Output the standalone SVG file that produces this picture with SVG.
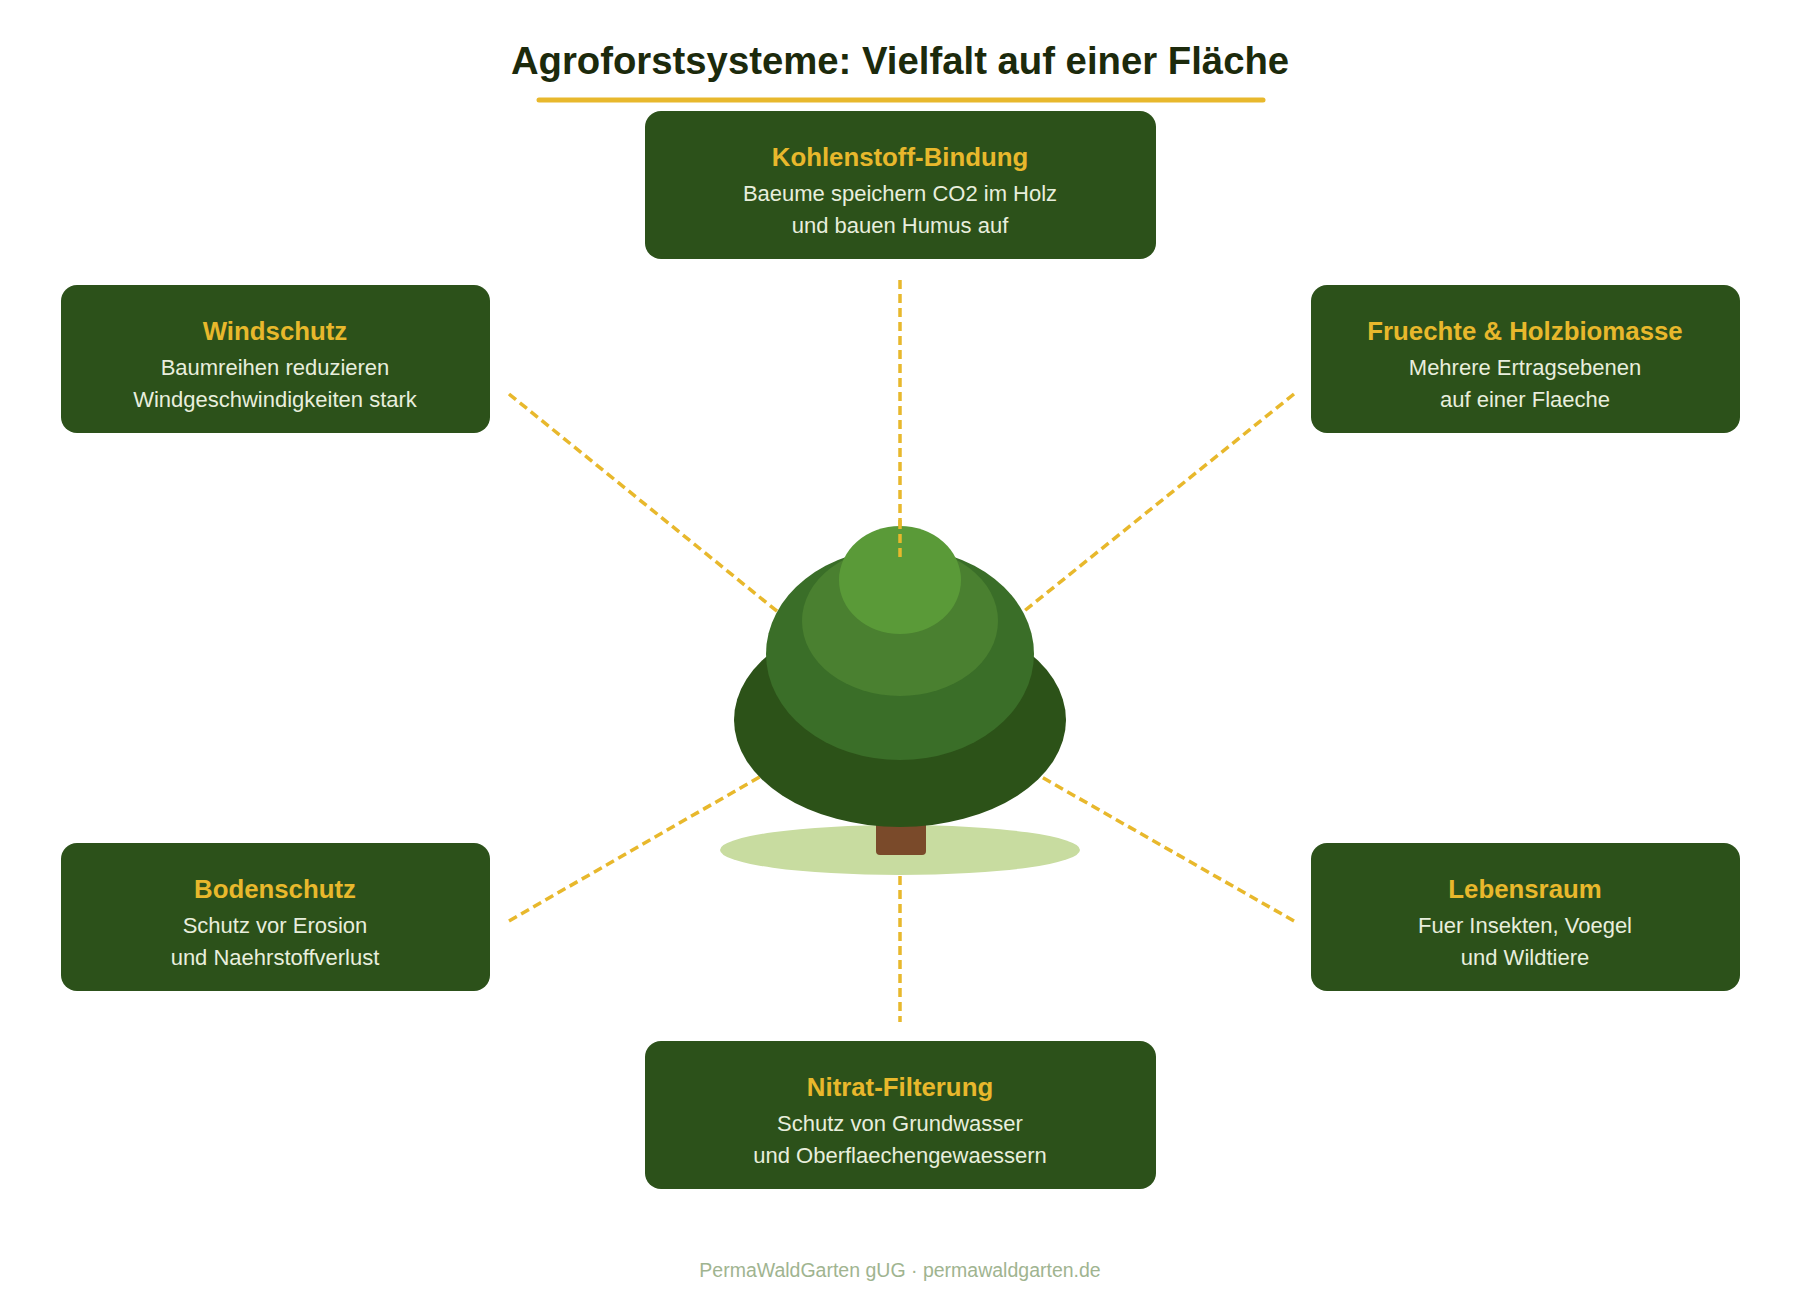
<svg xmlns="http://www.w3.org/2000/svg" width="1800" height="1296" viewBox="0 0 1800 1296">
<style>
text{font-family:"Liberation Sans",Arial,sans-serif;text-anchor:middle}
.box{fill:#2c511a}
.h{fill:#e8b82c;font-weight:bold;font-size:25.8px}
.s{fill:#e8eedd;font-size:22px}
.c{stroke:#e8b82c;stroke-width:3.5;stroke-dasharray:9 5;fill:none}
</style>
<rect width="1800" height="1296" fill="#fff"/>
<text x="900" y="74" font-size="38.3" font-weight="bold" fill="#1c2a0c">Agroforstsysteme: Vielfalt auf einer Fläche</text>
<line x1="539" y1="100" x2="1263" y2="100" stroke="#e8b82c" stroke-width="5" stroke-linecap="round"/>
<g id="connectors">
<line class="c" x1="900" y1="280" x2="900" y2="561"/>
<line class="c" x1="900" y1="876" x2="900" y2="1022"/>
<line class="c" x1="509" y1="394" x2="778" y2="612"/>
<line class="c" x1="1294" y1="394" x2="1023" y2="612"/>
<line class="c" x1="509" y1="921" x2="763" y2="775"/>
<line class="c" x1="1294" y1="921" x2="1038" y2="775"/>
</g>
<g id="tree">
<ellipse cx="900" cy="850" rx="180" ry="25" fill="#c8dca0"/>
<rect x="876" y="815" width="50" height="40" rx="4" fill="#7a4a2a"/>
<ellipse cx="900" cy="720" rx="166" ry="107" fill="#2c5218"/>
<ellipse cx="900" cy="654" rx="134" ry="106" fill="#3a6e28"/>
<ellipse cx="900" cy="621" rx="98" ry="75" fill="#4a8030"/>
<ellipse cx="900" cy="580" rx="61" ry="54" fill="#5a9a38"/>
<line class="c" x1="900" y1="520" x2="900" y2="561"/>
</g>
<g id="kohlenstoff"><rect class="box" x="645" y="111" width="511" height="148" rx="16"/>
<text class="h" x="900" y="166">Kohlenstoff-Bindung</text>
<text class="s" x="900" y="201">Baeume speichern CO2 im Holz</text>
<text class="s" x="900" y="233">und bauen Humus auf</text></g>
<g id="windschutz"><rect class="box" x="61" y="285" width="429" height="148" rx="16"/>
<text class="h" x="275" y="340">Windschutz</text>
<text class="s" x="275" y="375">Baumreihen reduzieren</text>
<text class="s" x="275" y="407">Windgeschwindigkeiten stark</text></g>
<g id="fruechte"><rect class="box" x="1311" y="285" width="429" height="148" rx="16"/>
<text class="h" x="1525" y="340">Fruechte &amp; Holzbiomasse</text>
<text class="s" x="1525" y="375">Mehrere Ertragsebenen</text>
<text class="s" x="1525" y="407">auf einer Flaeche</text></g>
<g id="bodenschutz"><rect class="box" x="61" y="843" width="429" height="148" rx="16"/>
<text class="h" x="275" y="898">Bodenschutz</text>
<text class="s" x="275" y="933">Schutz vor Erosion</text>
<text class="s" x="275" y="965">und Naehrstoffverlust</text></g>
<g id="lebensraum"><rect class="box" x="1311" y="843" width="429" height="148" rx="16"/>
<text class="h" x="1525" y="898">Lebensraum</text>
<text class="s" x="1525" y="933">Fuer Insekten, Voegel</text>
<text class="s" x="1525" y="965">und Wildtiere</text></g>
<g id="nitrat"><rect class="box" x="645" y="1041" width="511" height="148" rx="16"/>
<text class="h" x="900" y="1096">Nitrat-Filterung</text>
<text class="s" x="900" y="1131">Schutz von Grundwasser</text>
<text class="s" x="900" y="1163">und Oberflaechengewaessern</text></g>
<text x="900" y="1277" font-size="19.5" fill="#a0b490">PermaWaldGarten gUG · permawaldgarten.de</text>
</svg>
